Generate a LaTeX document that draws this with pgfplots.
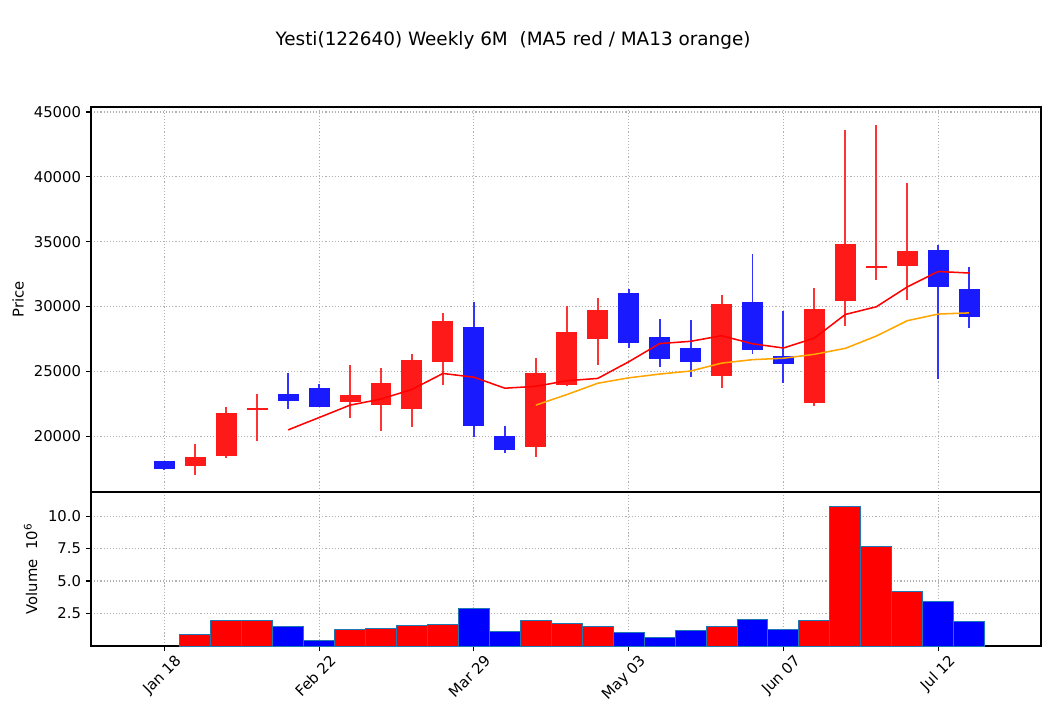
\documentclass[border=0pt]{standalone}
\usepackage{fontspec}
\setmainfont{DejaVu Sans}
\usepackage{pgfplots}
\usepackage{pgfplotstable}
\pgfplotsset{compat=1.18}
\definecolor{upbody}{RGB}{255,26,26}
\definecolor{upwick}{RGB}{255,51,51}
\definecolor{dnbody}{RGB}{26,26,255}
\definecolor{dnwick}{RGB}{51,51,255}
\definecolor{mplblue}{HTML}{1F77B4}
\definecolor{mplorange}{HTML}{FFA500}
\definecolor{gridc}{HTML}{B0B0B0}

% up (red) candles: x open high low close
\pgfplotstableread{
x o h l c
1 17690 19410 17040 18380
2 18460 22260 18350 21770
3 22000 23240 19660 22160
6 22620 25490 21430 23160
7 22410 25240 20430 24130
8 22100 26340 20740 25850
9 25720 29500 23970 28860
12 19180 26010 18430 24850
13 23930 30030 23900 28010
14 27490 30630 25510 29750
18 24640 30880 23740 30170
21 22540 31420 22360 29780
22 30400 43590 28520 34830
23 32940 43980 32060 33120
24 33120 39510 30520 34300
}\uptable

% down (blue) candles
\pgfplotstableread{
x o h l c
0 18070 18090 17440 17480
4 23240 24850 22130 22700
5 23700 24030 22230 22230
10 28400 30350 19970 20790
11 20000 20790 18740 18920
15 31060 31320 26820 27190
16 27670 29070 25360 25950
17 26820 28990 24590 25720
19 30370 34040 26360 26650
20 26210 29650 24130 25550
25 34370 34730 24390 31500
26 31370 33040 28360 29190
}\dntable

\pgfplotstableread{
x ma
4 20498
5 21448
6 22404
7 22876
8 23614
9 24846
10 24558
11 23710
12 23854
13 24286
14 24464
15 25744
16 27150
17 27324
18 27756
19 27136
20 26808
21 27574
22 29396
23 29986
24 31516
25 32706
26 32588
}\mafive

\pgfplotstableread{
x ma
12 22406
13 23216
14 24091
15 24508
16 24799
17 25032
18 25642
19 25911
20 26020
21 26322
22 26782
23 27730
24 28913
25 29425
26 29515
}\mathirteen

\pgfplotstableread{
x v
1 0.85
2 1.97
3 1.97
6 1.28
7 1.38
8 1.61
9 1.69
12 1.97
13 1.74
14 1.53
18 1.53
21 1.97
22 10.77
23 7.69
24 4.18
}\volup

\pgfplotstableread{
x v
4 1.53
5 0.44
10 2.91
11 1.13
15 1.05
16 0.67
17 1.20
19 2.05
20 1.28
25 3.42
26 1.89
}\voldn

\begin{document}
\begin{tikzpicture}
\path[use as bounding box] (0,0) rectangle (757.44bp,516.96bp);
\pgfplotsset{
  mpl/.style={
    scale only axis,
    anchor=south west,
    width=684bp,
    xmin=-2.368, xmax=28.32,
    axis line style={line width=0.85bp},
    tick align=outside,
    major tick length=3.7bp,
    every tick/.style={black, line width=0.85bp},
    xtick pos=bottom, ytick pos=left,
    xmajorgrids, ymajorgrids,
    grid style={draw=gridc, line width=0.85bp, dash pattern=on 0.85bp off 1.4bp},
    tick label style={font=\fontsize{10.7}{12.8}\selectfont, /pgf/number format/assume math mode=true},
    label style={font=\fontsize{10.7}{12.8}\selectfont},
    xtick={0,5,10,15,20,25},
  },
  wick/.style={draw=none, mark=none, forget plot,
    error bars/.cd, y dir=both, y explicit, error mark=none,
    error bar style={draw=#1, solid, line width=1.4bp}},
  body/.style={draw=none, mark=none, forget plot,
    error bars/.cd, y dir=both, y explicit, error mark=none,
    error bar style={draw=#1, solid, line width=15.1bp}},
}
\begin{axis}[mpl,
  at={(65.52bp,162.72bp)},
  height=277.2bp,
  ymin=15710, ymax=45385,
  ytick={20000,25000,30000,35000,40000,45000},
  scaled y ticks=false,
  yticklabel style={/pgf/number format/.cd, 1000 sep={}},
  xticklabels={},
  ylabel={Price},
  ylabel style={at={(axis description cs:-0.0766,0.5)}, anchor=center},
]
\addplot[wick=upwick] table[x=x, y expr={(\thisrow{h}+\thisrow{l})/2}, y error expr={(\thisrow{h}-\thisrow{l})/2}] {\uptable};
\addplot[wick=dnwick] table[x=x, y expr={(\thisrow{h}+\thisrow{l})/2}, y error expr={(\thisrow{h}-\thisrow{l})/2}] {\dntable};
\addplot[body=upbody] table[x=x, y expr={(\thisrow{o}+\thisrow{c})/2}, y error expr={abs(\thisrow{c}-\thisrow{o})/2}] {\uptable};
\addplot[body=dnbody] table[x=x, y expr={(\thisrow{o}+\thisrow{c})/2}, y error expr={abs(\thisrow{c}-\thisrow{o})/2}] {\dntable};
\addplot[red, line width=1.1bp, mark=none] table[x=x, y=ma] {\mafive};
\addplot[mplorange, line width=1.1bp, mark=none] table[x=x, y=ma] {\mathirteen};
\end{axis}
\begin{axis}[mpl,
  at={(65.52bp,51.84bp)},
  height=110.88bp,
  axis background/.style={fill=white},
  ymin=0, ymax=11.86,
  ytick={2.5,5,7.5,10},
  yticklabel style={/pgf/number format/.cd, fixed, fixed zerofill, precision=1},
  xticklabels={Jan 18,Feb 22,Mar 29,May 03,Jun 07,Jul 12},
  xticklabel style={inner sep=2.4bp, xshift=7bp, yshift=1.5bp, rotate=45, anchor=north east},
  ylabel={Volume\ \ 10\textsuperscript{6}},
  ylabel style={at={(axis description cs:-0.0635,0.5)}, anchor=center},
]
\addplot[ybar, bar width=1, bar shift=0pt, fill=red, draw=mplblue, line width=0.72bp] table[x=x, y=v] {\volup};
\addplot[ybar, bar width=1, bar shift=0pt, fill=blue, draw=mplblue, line width=0.72bp] table[x=x, y=v] {\voldn};
\end{axis}
\node[font=\fontsize{13.3}{16}\selectfont] at (369.4bp,488.2bp) {Yesti(122640) Weekly 6M\ \ (MA5 red / MA13 orange)};
\end{tikzpicture}
\end{document}
